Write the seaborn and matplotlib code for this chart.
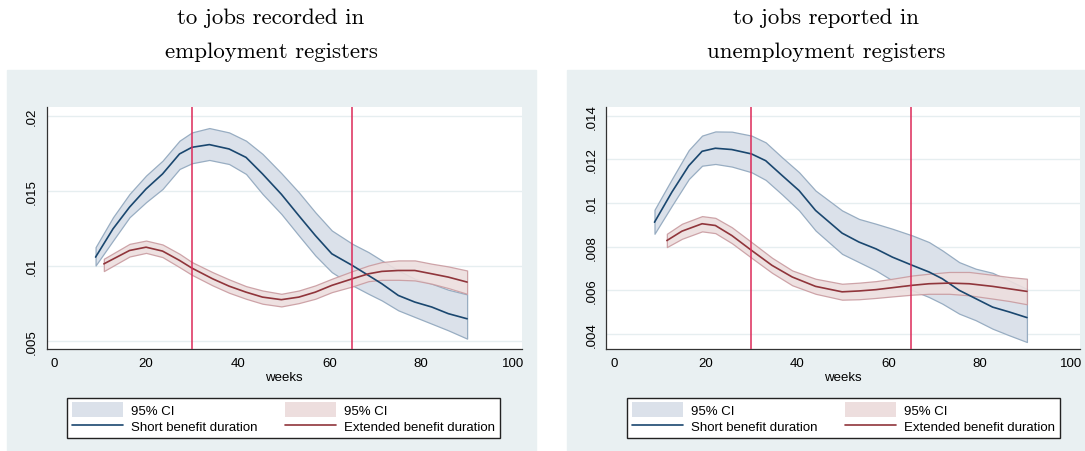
import numpy as np
import pandas as pd
import matplotlib.pyplot as plt
import seaborn as sns
from matplotlib.patches import Rectangle, Patch
from matplotlib.lines import Line2D

#%% data
# left panel: jobs recorded in employment registers
emp_short_weeks = [9, 12.8, 16.4, 20, 23.6, 27.3, 30, 33.8, 38.1, 41.8, 45.4, 49.5,
                   53.3, 56.9, 60.5, 65, 68.5, 71.4, 75, 78.6, 82.3, 85.9, 90]
emp_short = [0.0106, 0.01248, 0.01392, 0.01513, 0.01613, 0.01746, 0.0179, 0.01808, 0.01779,
             0.01723, 0.01613, 0.01478, 0.01336, 0.01204, 0.01082, 0.01004, 0.00938, 0.00883,
             0.00805, 0.00761, 0.00728, 0.00684, 0.0065]
emp_short_hi = [0.01126, 0.01325, 0.0148, 0.01602, 0.01701, 0.01834, 0.01889, 0.01918, 0.01889,
                0.01834, 0.01746, 0.01618, 0.01491, 0.01358, 0.01237, 0.01148, 0.01093, 0.01038,
                0.00971, 0.00916, 0.00883, 0.00843, 0.00812]
emp_short_lo = [0.01004, 0.0117, 0.01325, 0.01425, 0.01513, 0.01646, 0.01684, 0.01706, 0.01679,
                0.01613, 0.0148, 0.01347, 0.01204, 0.01071, 0.0096, 0.00872, 0.00816, 0.00772,
                0.00706, 0.00662, 0.00617, 0.00573, 0.00518]

emp_ext_weeks = [10.8, 16.4, 20, 23.6, 27.3, 30, 34.5, 38.1, 41.8, 45.4, 49.5,
                 53.3, 56.9, 60.5, 65, 68.5, 71.4, 75, 78.6, 82.3, 85.9, 90]
emp_ext = [0.01015, 0.01104, 0.01126, 0.011, 0.01038, 0.00987, 0.00916, 0.00867, 0.00827,
           0.00794, 0.00777, 0.00794, 0.00827, 0.00872, 0.00916, 0.00949, 0.00965, 0.00971,
           0.00971, 0.00949, 0.00927, 0.00894]
emp_ext_hi = [0.01049, 0.01148, 0.0117, 0.01144, 0.01082, 0.01027, 0.0096, 0.00912, 0.00867,
              0.00838, 0.00816, 0.00838, 0.00872, 0.00916, 0.00967, 0.01004, 0.01027, 0.01038,
              0.01038, 0.01016, 0.00998, 0.00971]
emp_ext_lo = [0.00967, 0.01064, 0.01088, 0.0106, 0.00993, 0.00942, 0.00872, 0.00823, 0.00783,
              0.0075, 0.00732, 0.00754, 0.00783, 0.00827, 0.00865, 0.009, 0.00909, 0.00909,
              0.00905, 0.00883, 0.00854, 0.00816]

# right panel: jobs reported in unemployment registers
unemp_short_weeks = [8.9, 12.7, 16.4, 19.3, 22.2, 25.8, 30.1, 33.2, 36.8, 40.5, 44.1, 49.9,
                     53.6, 57.3, 60.9, 65.3, 68.9, 71.8, 75.5, 79.1, 82.8, 86.4, 90.3]
unemp_short = [0.00912, 0.0105, 0.01171, 0.01237, 0.01251, 0.01245, 0.01225, 0.01194, 0.01126,
               0.01057, 0.00966, 0.00862, 0.00821, 0.0079, 0.00752, 0.00714, 0.00684, 0.00653,
               0.006, 0.00562, 0.00523, 0.00501, 0.00475]
unemp_short_hi = [0.00969, 0.0111, 0.01243, 0.01309, 0.01328, 0.01327, 0.01309, 0.01278, 0.01209,
                  0.01141, 0.01057, 0.00966, 0.00927, 0.00905, 0.00882, 0.00851, 0.00821, 0.00783,
                  0.00729, 0.00699, 0.0068, 0.00645, 0.00606]
unemp_short_lo = [0.00859, 0.00988, 0.0111, 0.01171, 0.01179, 0.01167, 0.01141, 0.01106, 0.01039,
                  0.00966, 0.00874, 0.00767, 0.00729, 0.00691, 0.00645, 0.006, 0.00569, 0.00539,
                  0.00493, 0.00463, 0.00424, 0.00394, 0.00363]

unemp_ext_weeks = [11.6, 14.9, 19.3, 22.2, 25.8, 30.1, 34.6, 39, 44.1, 49.9,
                   53.6, 57.3, 60.9, 65.3, 68.9, 73.3, 77.7, 82.8, 86.4, 90.3]
unemp_ext = [0.00828, 0.00871, 0.00905, 0.00897, 0.00851, 0.00783, 0.00714, 0.00661, 0.00618,
             0.00593, 0.00597, 0.00603, 0.00612, 0.00623, 0.0063, 0.00633, 0.0063, 0.00618,
             0.00607, 0.00595]
unemp_ext_hi = [0.00859, 0.00905, 0.0094, 0.00932, 0.00889, 0.00821, 0.00749, 0.00691, 0.00653,
                0.0063, 0.00635, 0.00642, 0.00653, 0.00668, 0.00676, 0.00684, 0.00684, 0.00671,
                0.00661, 0.00653]
unemp_ext_lo = [0.00798, 0.00836, 0.0087, 0.00862, 0.00816, 0.00749, 0.0068, 0.00623, 0.00584,
                0.00557, 0.00559, 0.00565, 0.00572, 0.0058, 0.00584, 0.00584, 0.00577, 0.00562,
                0.00551, 0.00536]

cutoffs = [30, 65]
x_ticks = [0, 20, 40, 60, 80, 100]
emp_yticks = [0.005, 0.01, 0.015, 0.02]
emp_yticklabels = [".005", ".01", ".015", ".02"]
unemp_yticks = [0.004, 0.006, 0.008, 0.01, 0.012, 0.014]
unemp_yticklabels = [".004", ".006", ".008", ".01", ".012", ".014"]

titles = [["to jobs recorded in", "employment registers"],
          ["to jobs reported in", "unemployment registers"]]

#%% styling
sns.set_style("white")
plt.rcParams["font.family"] = ["Liberation Sans", "DejaVu Sans"]
plt.rcParams["text.color"] = "black"
plt.rcParams["xtick.color"] = "black"
plt.rcParams["ytick.color"] = "black"
plt.rcParams["axes.labelcolor"] = "black"

navy = "#1a476f"
navy_fill = "#dbe1ea"
navy_edge = "#98adc2"
maroon = "#90353b"
maroon_fill = "#eddede"
maroon_edge = "#c99ba0"
cut_color = "#dc2a58"
panel_bg = "#e9f0f2"
grid_color = "#e6eef0"

fig = plt.figure(figsize=(10.85, 4.52), dpi=100)

# light panel backgrounds behind each graph
W, H = 1085, 452
for x0, x1 in [(7, 536), (567, 1085)]:
    fig.patches.append(Rectangle((x0 / W, 0), (x1 - x0) / W, (452 - 71) / H,
                                 transform=fig.transFigure, color=panel_bg, zorder=-5))

ax_left = fig.add_axes([46.5 / W, 1 - 350 / H, (521.7 - 46.5) / W, (350 - 108) / H])
ax_right = fig.add_axes([606 / W, 1 - 350 / H, (1080 - 606) / W, (350 - 108) / H])

panels = [
    (ax_left, emp_short_weeks, emp_short, emp_short_lo, emp_short_hi,
     emp_ext_weeks, emp_ext, emp_ext_lo, emp_ext_hi,
     emp_yticks, emp_yticklabels, (0.00449, 0.02058)),
    (ax_right, unemp_short_weeks, unemp_short, unemp_short_lo, unemp_short_hi,
     unemp_ext_weeks, unemp_ext, unemp_ext_lo, unemp_ext_hi,
     unemp_yticks, unemp_yticklabels, (0.00331, 0.0144)),
]

for (ax, sw, s, slo, shi, ew, e, elo, ehi, yt, ytl, ylim) in panels:
    ax.set_facecolor("white")
    for yv in yt:
        ax.axhline(yv, color=grid_color, linewidth=1.0, zorder=0)

    # confidence bands
    ax.fill_between(sw, slo, shi, facecolor=navy_fill, edgecolor=navy_edge, linewidth=0.9, zorder=2)
    ax.fill_between(ew, elo, ehi, facecolor=maroon_fill, edgecolor=maroon_edge, linewidth=0.9,
                    alpha=0.9, zorder=3)

    # point estimates
    sns.lineplot(x=sw, y=s, color=navy, linewidth=1.2, ax=ax, zorder=4)
    sns.lineplot(x=ew, y=e, color=maroon, linewidth=1.2, ax=ax, zorder=5)

    for c in cutoffs:
        ax.axvline(c, color=cut_color, linewidth=1.1, zorder=6)

    ax.set_xlim(-1.7, 101.9)
    ax.set_ylim(*ylim)
    ax.set_xticks(x_ticks)
    ax.set_yticks(yt)
    ax.set_yticklabels(ytl, rotation=90, va="center")
    ax.tick_params(axis="both", direction="out", length=4, width=0.8, color="#333333",
                   labelsize=9.5, pad=2)
    ax.set_xlabel("weeks", fontsize=9.5, labelpad=1)
    ax.set_ylabel("")
    for side in ["top", "right"]:
        ax.spines[side].set_visible(False)
    for side in ["left", "bottom"]:
        ax.spines[side].set_color("#333333")
        ax.spines[side].set_linewidth(0.9)

# legends, one under each graph
handles = [Patch(facecolor=navy_fill, edgecolor="none"),
           Line2D([], [], color=navy, linewidth=1.2),
           Patch(facecolor=maroon_fill, edgecolor="none"),
           Line2D([], [], color=maroon, linewidth=1.2)]
labels = ["95% CI", "Short benefit duration", "95% CI", "Extended benefit duration"]
for x0, x1 in [(67, 500), (627, 1060)]:
    leg = fig.legend(handles, labels, ncol=2, loc="lower left", mode="expand",
                     bbox_to_anchor=(x0 / W, (452 - 439) / H, (x1 - x0) / W, 0.09),
                     borderaxespad=0, frameon=True, fancybox=False, fontsize=9.5,
                     handlelength=3.9, handleheight=1.3, labelspacing=0.15,
                     borderpad=0.35, handletextpad=0.6, framealpha=1, facecolor="white")
    leg.get_frame().set_edgecolor("#222222")
    leg.get_frame().set_linewidth(1.0)

# two-line serif headings above the panels
for (line1, line2), cx in zip(titles, [271, 826]):
    fig.text(cx / W, 1 - 18 / H, line1, ha="center", va="center", fontsize=16.5, family="cmr10")
    fig.text(cx / W, 1 - 52 / H, line2, ha="center", va="center", fontsize=16.5, family="cmr10")

fig.savefig("out.png", dpi=100)
